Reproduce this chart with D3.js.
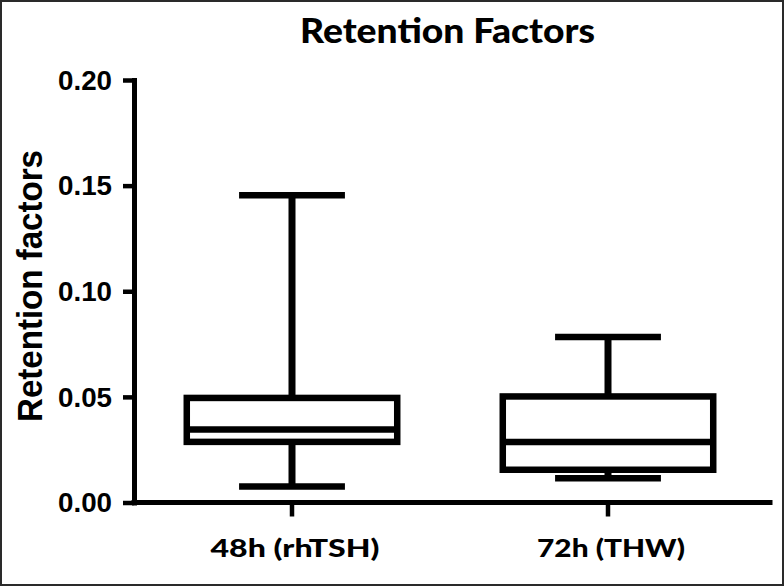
<!DOCTYPE html>
<html>
<head>
<meta charset="utf-8">
<script src="https://cdn.jsdelivr.net/npm/d3@7"></script>
<style>
  html, body { margin: 0; padding: 0; background: #fff; }
  svg { display: block; }
</style>
</head>
<body>
<svg id="chart" width="784" height="586"></svg>
<script>
// ---- data ----
const categories = ["48h (rhTSH)", "72h (THW)"];
const whiskerHigh = [0.1455, 0.0784];
const q3Values = [0.0495, 0.0502];
const medianValues = [0.0346, 0.0286];
const q1Values = [0.0287, 0.0155];
const whiskerLow = [0.0076, 0.0115];
const yTicks = [0.00, 0.05, 0.10, 0.15, 0.20];
const chartTitle = "Retention Factors";
const yTitle = "Retention factors";
const xLabelLengths = [169, 148];

// ---- layout ----
const W = 784, H = 586;
const svg = d3.select("#chart");

svg.append("rect")
  .attr("x", 1).attr("y", 1).attr("width", W - 2).attr("height", H - 2)
  .attr("fill", "#fff").attr("stroke", "#2a2a2a").attr("stroke-width", 2);

const x = d3.scaleBand().domain(categories).range([134, 766]).paddingInner(0).paddingOuter(0);
const y = d3.scaleLinear().domain([0, 0.2]).range([502.5, 80]);

const boxes = categories.map((c, i) => ({
  cat: c, hi: whiskerHigh[i], q3: q3Values[i], med: medianValues[i], q1: q1Values[i], lo: whiskerLow[i]
}));

// ---- axes ----
const yAxis = svg.append("g")
  .attr("transform", "translate(134,0)")
  .call(d3.axisLeft(y).tickValues(yTicks).tickFormat(d3.format(".2f")).tickSize(11).tickSizeOuter(0).tickPadding(11));
yAxis.select(".domain").attr("stroke", "#000").attr("stroke-width", 5).attr("stroke-linecap", "square");
yAxis.selectAll(".tick line").attr("stroke", "#000").attr("stroke-width", 4.5);
yAxis.selectAll(".tick text")
  .attr("fill", "#000")
  .attr("textLength", 54)
  .attr("lengthAdjust", "spacingAndGlyphs")
  .style("font-family", "'Liberation Sans', Arial, sans-serif")
  .style("font-weight", "bold")
  .style("font-size", "27px")
  .attr("dy", "0.34em");

const xAxis = svg.append("g")
  .attr("transform", `translate(0,${y(0)})`)
  .call(d3.axisBottom(x).tickSize(14).tickSizeOuter(0).tickPadding(0).tickFormat(""));
xAxis.select(".domain").attr("stroke", "#000").attr("stroke-width", 5).attr("stroke-linecap", "square")
  .attr("d", `M134,0H770`);
xAxis.selectAll(".tick line").attr("stroke", "#000").attr("stroke-width", 4.5);

// x category labels
svg.append("g").selectAll("text")
  .data(categories)
  .join("text")
  .attr("x", d => x(d) + x.bandwidth() / 2 + 3)
  .attr("y", 557)
  .attr("text-anchor", "middle")
  .attr("textLength", (d, i) => xLabelLengths[i])
  .attr("lengthAdjust", "spacingAndGlyphs")
  .style("font-family", "Lato, 'Open Sans', sans-serif")
  .style("font-weight", "900")
  .style("font-size", "24px")
  .attr("fill", "#000")
  .text(d => d);

// title
svg.append("text")
  .attr("x", 447.5).attr("y", 43)
  .attr("text-anchor", "middle")
  .attr("textLength", 295)
  .attr("lengthAdjust", "spacingAndGlyphs")
  .style("font-family", "Lato, 'Open Sans', sans-serif")
  .style("font-weight", "900")
  .style("font-size", "35px")
  .attr("fill", "#000")
  .text(chartTitle);

// y title
svg.append("text")
  .attr("transform", "translate(42,286) rotate(-90)")
  .attr("text-anchor", "middle")
  .attr("textLength", 272)
  .attr("lengthAdjust", "spacingAndGlyphs")
  .style("font-family", "'Liberation Sans', Arial, sans-serif")
  .style("font-weight", "bold")
  .style("font-size", "35px")
  .attr("fill", "#000")
  .text(yTitle);

// ---- boxes ----
const boxW = x.bandwidth() * 0.666;
const capW = boxW * 0.503;
const sw = 6.5;

const g = svg.append("g").selectAll("g").data(boxes).join("g");
const cx = d => x(d.cat) + x.bandwidth() / 2;

// whiskers
g.append("line")
  .attr("x1", cx).attr("x2", cx)
  .attr("y1", d => y(d.q3)).attr("y2", d => y(d.hi))
  .attr("stroke", "#000").attr("stroke-width", 7);
g.append("line")
  .attr("x1", cx).attr("x2", cx)
  .attr("y1", d => y(d.q1)).attr("y2", d => y(d.lo))
  .attr("stroke", "#000").attr("stroke-width", 7);
// caps
g.append("line")
  .attr("x1", d => cx(d) - capW / 2).attr("x2", d => cx(d) + capW / 2)
  .attr("y1", d => y(d.hi)).attr("y2", d => y(d.hi))
  .attr("stroke", "#000").attr("stroke-width", sw);
g.append("line")
  .attr("x1", d => cx(d) - capW / 2).attr("x2", d => cx(d) + capW / 2)
  .attr("y1", d => y(d.lo)).attr("y2", d => y(d.lo))
  .attr("stroke", "#000").attr("stroke-width", sw);
// box
g.append("rect")
  .attr("x", d => cx(d) - boxW / 2)
  .attr("width", boxW)
  .attr("y", d => y(d.q3))
  .attr("height", d => y(d.q1) - y(d.q3))
  .attr("fill", "#fff")
  .attr("stroke", "#000").attr("stroke-width", sw);
// median
g.append("line")
  .attr("x1", d => cx(d) - boxW / 2).attr("x2", d => cx(d) + boxW / 2)
  .attr("y1", d => y(d.med)).attr("y2", d => y(d.med))
  .attr("stroke", "#000").attr("stroke-width", sw);
</script>
</body>
</html>
